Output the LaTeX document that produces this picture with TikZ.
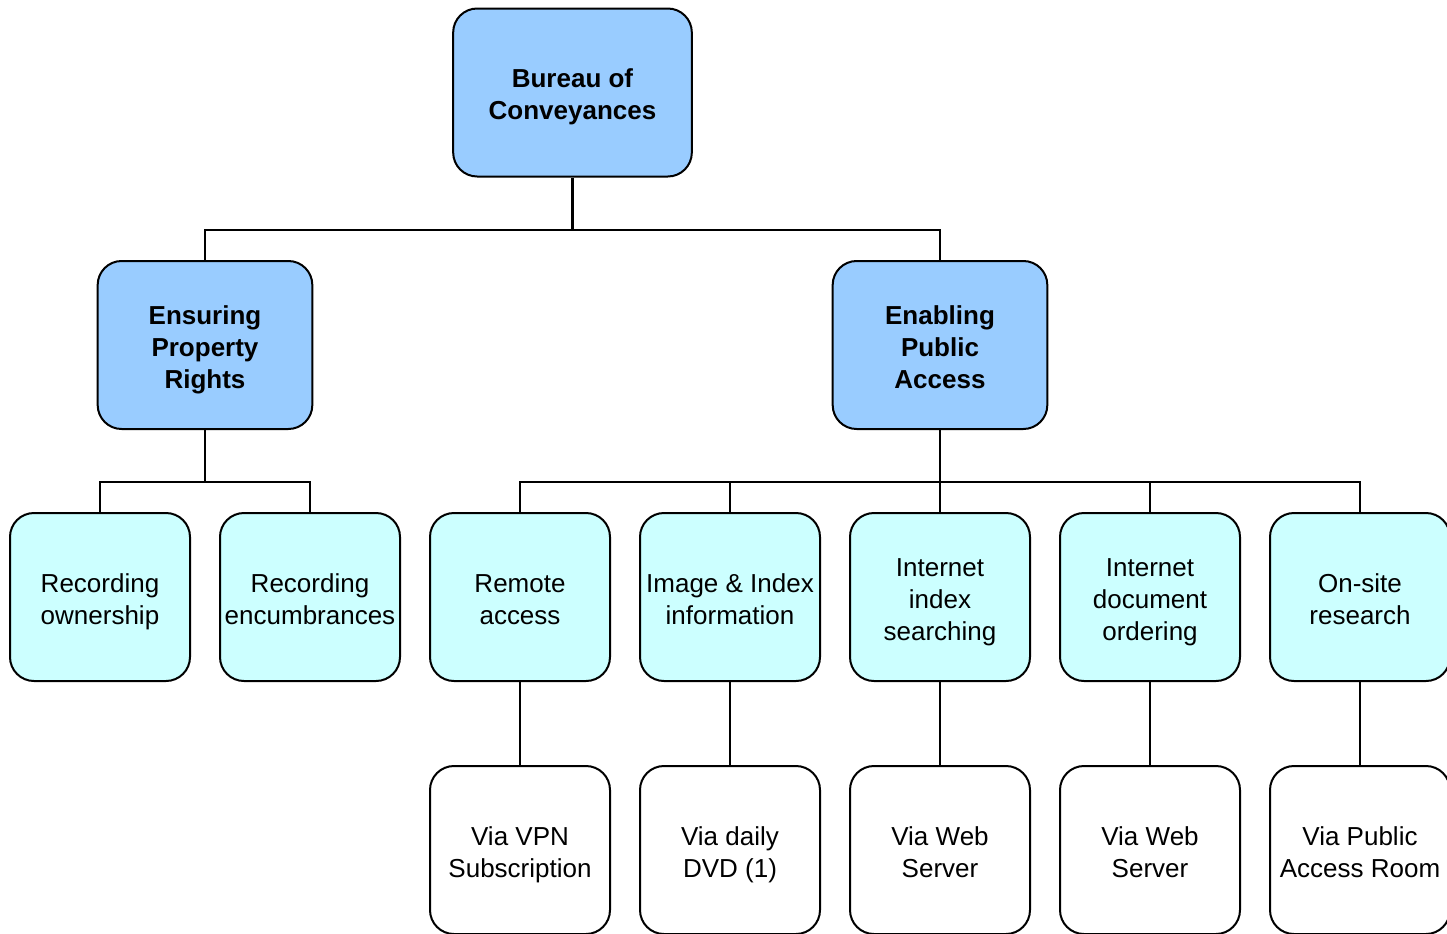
\documentclass[tikz,border=0pt]{standalone}
\usepackage{fontspec}
\setmainfont{Liberation Sans}
\definecolor{topblue}{HTML}{99CCFF}
\definecolor{midcyan}{HTML}{CCFFFF}
\newcommand{\ls}{\rule[-4.5pt]{0pt}{26pt}}
\newcommand{\boxfont}{\fontsize{19.5pt}{24pt}\selectfont\lineskiplimit=-50pt\lineskip=0pt}
\tikzset{
  base/.style={draw=black, line width=1.5pt, rounded corners=18pt, inner sep=0pt,
    minimum width=135pt, minimum height=126pt, align=center,
    font=\boxfont},
  rootbox/.style={base, fill=topblue, minimum width=179pt, font=\boxfont\bfseries},
  lvtwo/.style={base, fill=topblue, minimum width=161pt, font=\boxfont\bfseries},
  lvthree/.style={base, fill=midcyan},
  lvfour/.style={base, fill=white},
  link/.style={line width=1.6pt, draw=black}
}
\begin{document}
\begin{tikzpicture}[x=0.75pt, y=-0.75pt]
\useasboundingbox (0,0) rectangle (1447,933);
\clip (0,0) rectangle (1447,933);
\node[rootbox] (root) at (572.5,92.5) {\ls Bureau of\\\ls Conveyances};
\node[lvtwo] (ens) at (205,345) {\ls Ensuring\\\ls Property\\\ls Rights};
\node[lvtwo] (ena) at (940,345) {\ls Enabling\\\ls Public\\\ls Access};

\node[lvthree] (own) at (100,597) {\ls Recording\\\ls ownership};
\node[lvthree] (enc) at (310,597) {\ls Recording\\\ls encumbrances};
\node[lvthree] (rem) at (520,597) {\ls Remote\\\ls access};
\node[lvthree] (img) at (730,597) {\ls Image \& Index\\\ls information};
\node[lvthree] (iis) at (940,597) {\ls Internet\\\ls index\\\ls searching};
\node[lvthree] (ido) at (1150,597) {\ls Internet\\\ls document\\\ls ordering};
\node[lvthree] (ons) at (1360,597) {\ls On-site\\\ls research};

\node[lvfour] (vpn) at (520,850) {\ls Via VPN\\\ls Subscription};
\node[lvfour] (dvd) at (730,850) {\ls Via daily\\\ls DVD (1)};
\node[lvfour] (ws1) at (940,850) {\ls Via Web\\\ls Server};
\node[lvfour] (ws2) at (1150,850) {\ls Via Web\\\ls Server};
\node[lvfour] (par) at (1360,850) {\ls Via Public\\\ls Access Room};

\draw[link] (root.south) -- ++(0,52.5) coordinate (j1);
\draw[link] (j1) -| (ens.north);
\draw[link] (j1) -| (ena.north);

\draw[link] (ens.south) -- ++(0,52) coordinate (j2);
\draw[link] (j2) -| (own.north);
\draw[link] (j2) -| (enc.north);

\draw[link] (ena.south) -- ++(0,52) coordinate (j3);
\draw[link] (j3) -| (rem.north);
\draw[link] (j3) -| (img.north);
\draw[link] (j3) -- (iis.north);
\draw[link] (j3) -| (ido.north);
\draw[link] (j3) -| (ons.north);

\draw[link] (rem.south) -- (vpn.north);
\draw[link] (img.south) -- (dvd.north);
\draw[link] (iis.south) -- (ws1.north);
\draw[link] (ido.south) -- (ws2.north);
\draw[link] (ons.south) -- (par.north);
\end{tikzpicture}
\end{document}
